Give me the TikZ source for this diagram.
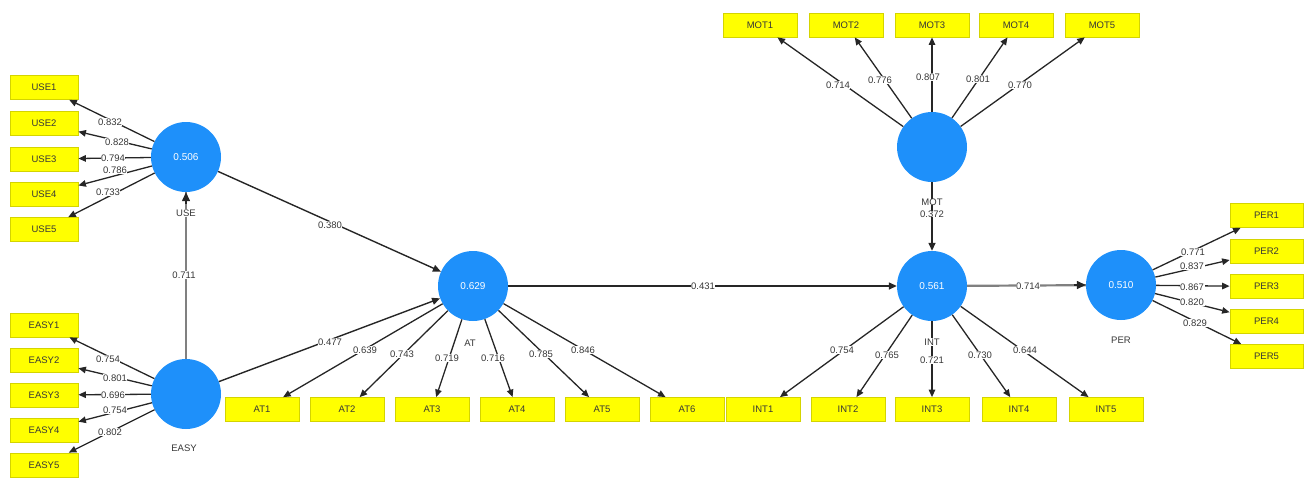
\documentclass[tikz,border=0pt]{standalone}
\usepackage{fontspec}
\setmainfont{Liberation Sans}
\usetikzlibrary{arrows.meta,calc}
\definecolor{lvblue}{RGB}{30,144,250}
\definecolor{indyellow}{RGB}{255,255,0}
\definecolor{indedge}{RGB}{212,212,0}
\definecolor{txtgray}{RGB}{55,55,55}
\begin{document}
\begin{tikzpicture}[x=1pt,y=-1pt,
  latent/.style={circle,fill=lvblue,minimum size=70pt,inner sep=0pt,
    text=white,font=\fontsize{10}{12}\selectfont},
  ind/.style={rectangle,fill=indyellow,draw=indedge,line width=0.8pt,
    minimum width=74pt,minimum height=24pt,inner sep=0pt,
    text=txtgray,font=\fontsize{9.5}{11}\selectfont},
  narrowind/.style={ind,minimum width=68pt},
  load/.style={draw=black!85,line width=1.3pt,-{Triangle[length=7.5pt,width=6.5pt]}},
  struct/.style={draw=black!85,line width=1.4pt,-{Triangle[length=8pt,width=7pt]}},
  heavystruct/.style={draw=black!50,line width=2.2pt},
  heavytip/.style={draw=black!85,line width=1.4pt,-{Triangle[length=9pt,width=8pt]}},
  coef/.style={fill=white,inner sep=0.6pt,text=txtgray,font=\fontsize{9.5}{11}\selectfont},
  lvname/.style={fill=white,inner sep=0.6pt,text=txtgray,font=\fontsize{9.5}{11}\selectfont}
]
\useasboundingbox (0,0) rectangle (1309,477);

% latent variables
\node[latent] (USE)  at (186,157) {0.506};
\node[latent] (EASY) at (186,394) {};
\node[latent] (AT)   at (473,286) {0.629};
\node[latent] (INT)  at (932,286) {0.561};
\node[latent] (MOT)  at (932,147) {};
\node[latent] (PER)  at (1121,285) {0.510};

% indicator boxes
\foreach \i/\y in {1/87.5,2/123.5,3/159,4/194.5,5/229.5}
  \node[narrowind] (USE\i) at (44,\y) {USE\i};
\foreach \i/\y in {1/325,2/360,3/395,4/430.5,5/465}
  \node[narrowind] (EASY\i) at (44,\y) {EASY\i};
\foreach \i/\x in {1/262,2/347,3/432,4/517,5/602,6/687}
  \node[ind] (AT\i) at (\x,409.5) {AT\i};
\foreach \i/\x in {1/763,2/848,3/932,4/1019,5/1106}
  \node[ind] (INT\i) at (\x,409.5) {INT\i};
\foreach \i/\x in {1/760,2/846,3/932,4/1016,5/1102}
  \node[ind] (MOT\i) at (\x,25) {MOT\i};
\foreach \i/\y in {1/215.5,2/251.5,3/286.5,4/321.5,5/356.5}
  \node[narrowind,minimum width=73pt] (PER\i) at (1266.5,\y) {PER\i};

% outer loadings
\foreach \i/\v/\lx/\ly in {1/0.832/110/122,2/0.828/117/142,3/0.794/113/158,4/0.786/115/170,5/0.733/108/192}{
  \draw[load] (USE) -- (USE\i);
  \node[coef] (cUSE\i) at (\lx,\ly) {\v};
}
\foreach \i/\v/\lx/\ly in {1/0.754/108/359,2/0.801/115/378,3/0.696/113/395,4/0.754/115/410,5/0.802/110/432}{
  \draw[load] (EASY) -- (EASY\i);
  \node[coef] (cEASY\i) at (\lx,\ly) {\v};
}
\foreach \i/\v/\lx/\ly in {1/0.639/365/350,2/0.743/402/354,3/0.719/447/358,4/0.716/493/358,5/0.785/541/354,6/0.846/583/350}{
  \draw[load] (AT) -- (AT\i);
  \node[coef] (cAT\i) at (\lx,\ly) {\v};
}
\foreach \i/\v/\lx/\ly in {1/0.754/842/350,2/0.765/887/355,3/0.721/932/360,4/0.730/980/355,5/0.644/1025/350}{
  \draw[load] (INT) -- (INT\i);
  \node[coef] (cINT\i) at (\lx,\ly) {\v};
}
\foreach \i/\v/\lx/\ly in {1/0.714/838/85,2/0.776/880/80,3/0.807/928/77,4/0.801/978/79,5/0.770/1020/85}{
  \draw[load] (MOT) -- (MOT\i);
  \node[coef] (cMOT\i) at (\lx,\ly) {\v};
}
\foreach \i/\v/\lx/\ly in {1/0.771/1193/252,2/0.837/1192/266,3/0.867/1192/287,4/0.820/1192/302,5/0.829/1195/323}{
  \draw[load] (PER) -- (PER\i);
  \node[coef] (cPER\i) at (\lx,\ly) {\v};
}

% inner model: heavy grey shafts carry a dark tip over their last stretch
\draw[heavystruct] (EASY) -- (USE);
\draw[heavytip] ($(USE.south)+(0,12)$) coordinate (tEU) -- (USE);
\draw[struct] (USE) -- (AT);
\draw[struct] (EASY) -- (AT);
\draw[struct] (AT) -- (INT);
\draw[struct] (MOT) -- (INT);
\draw[heavystruct] (INT) -- (PER);
\draw[heavytip] ($(PER.west)+(-12,0)$) coordinate (tIP) -- (PER);

\node[coef] (cEU) at (184,275) {0.711};
\node[coef] (cUA) at (330,225) {0.380};
\node[coef] (cEA) at (330,342) {0.477};
\node[coef] (cAI) at (703,286) {0.431};
\node[coef] (cIP) at (1028,286) {0.714};

% latent variable names
\node[lvname] (nUSE)  at (186,213) {USE};
\node[lvname] (nEASY) at (184,448) {EASY};
\node[lvname] (nAT)   at (470,343) {AT};
\node[lvname] (nINT)  at (932,342) {INT};
\node[lvname] (nPER)  at (1121,340) {PER};
\node[lvname,inner ysep=0pt] (nMOT) at (932,202) {MOT};
\node[coef,inner ysep=0pt] (cMI) at (932,214) {0.372};
\end{tikzpicture}
\end{document}
